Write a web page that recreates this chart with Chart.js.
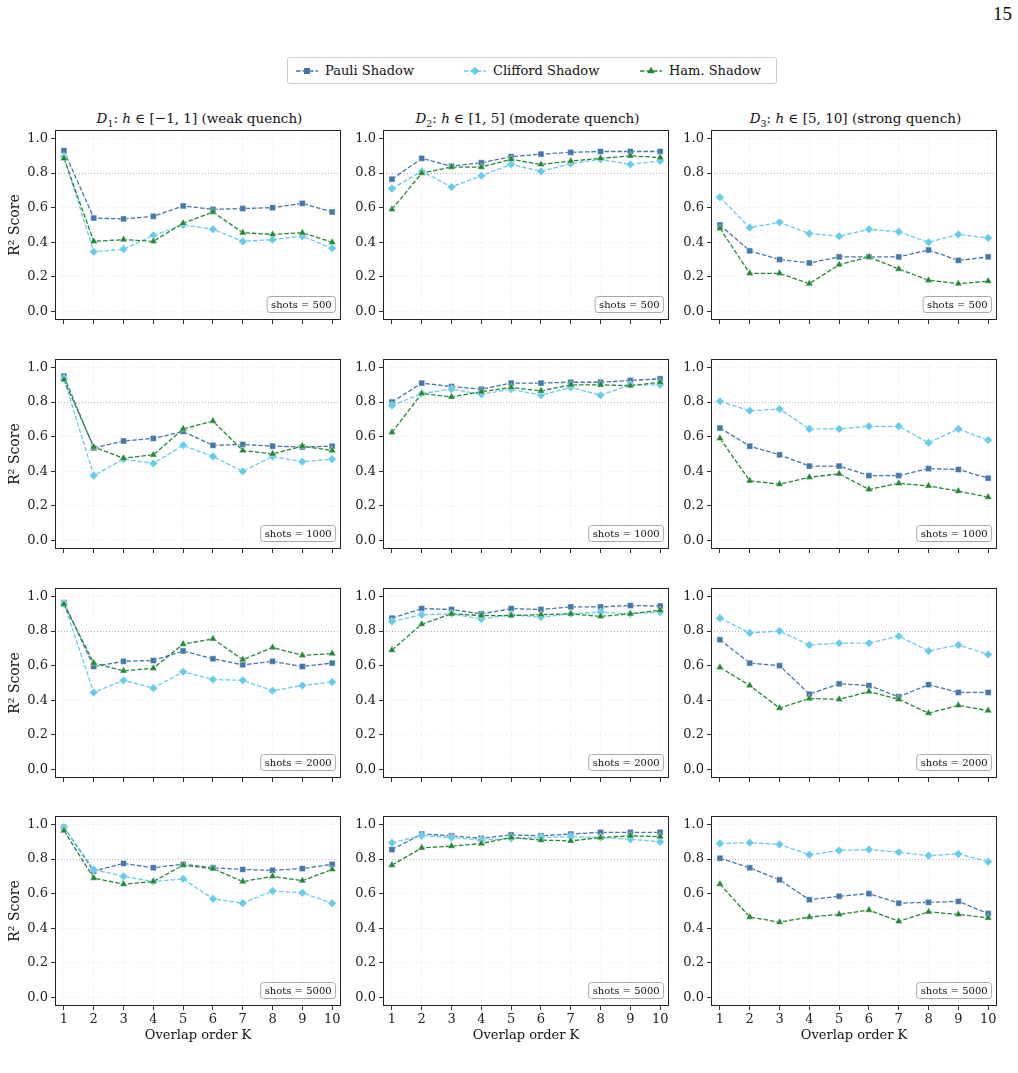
<!DOCTYPE html>
<html>
<head>
<meta charset="utf-8">
<script src="https://cdn.jsdelivr.net/npm/chart.js@4.4.1/dist/chart.umd.min.js"></script>
<style>
html,body{margin:0;padding:0;background:#fff;}
#page{position:relative;width:1018px;height:1073px;overflow:hidden;font-family:"DejaVu Serif",serif;color:#111;}
#page canvas{position:absolute;}
.coltitle{position:absolute;top:110px;width:289px;text-align:center;font-size:13.5px;line-height:17px;white-space:nowrap;}
.coltitle sub{font-size:9.5px;line-height:0;}
#pagenum{position:absolute;right:6px;top:3px;font-size:19px;font-family:"Liberation Serif","DejaVu Serif",serif;}
#legend{position:absolute;left:287px;top:57px;width:488px;height:25px;border:1px solid #cfcfcf;border-radius:3px;background:#fff;}
.litem{position:absolute;top:0;height:25px;display:flex;align-items:center;font-size:13px;white-space:nowrap;}
.litem svg{margin-right:7px;}
</style>
</head>
<body>
<div id="page">
  <div id="pagenum">15</div>
  <div id="legend"></div>
</div>
<script>
// ---------- data ----------
const K = [1, 2, 3, 4, 5, 6, 7, 8, 9, 10];
const shotCounts = [500, 1000, 2000, 5000];
const yTickValues = [0, 0.2, 0.4, 0.6, 0.8, 1.0];
const refLineValue = 0.8;
const methodNames = ['Pauli Shadow', 'Clifford Shadow', 'Ham. Shadow'];
const regimeTitles = [
  '<i>D</i><sub>1</sub>: <i>h</i> \u2208 [\u22121, 1] (weak quench)',
  '<i>D</i><sub>2</sub>: <i>h</i> \u2208 [1, 5] (moderate quench)',
  '<i>D</i><sub>3</sub>: <i>h</i> \u2208 [5, 10] (strong quench)'
];
const yAxisTitle = 'R\u00B2 Score';
const xAxisTitle = 'Overlap order K';

// shots = 500
const D1_500_pauli = [0.93, 0.54, 0.535, 0.55, 0.61, 0.59, 0.595, 0.60, 0.625, 0.575];
const D1_500_cliff = [0.895, 0.345, 0.36, 0.44, 0.50, 0.475, 0.405, 0.415, 0.435, 0.365];
const D1_500_ham   = [0.885, 0.405, 0.415, 0.405, 0.51, 0.575, 0.455, 0.445, 0.455, 0.40];
const D2_500_pauli = [0.765, 0.885, 0.84, 0.86, 0.895, 0.91, 0.92, 0.925, 0.925, 0.925];
const D2_500_cliff = [0.71, 0.81, 0.72, 0.785, 0.85, 0.81, 0.855, 0.88, 0.85, 0.87];
const D2_500_ham   = [0.59, 0.80, 0.835, 0.835, 0.88, 0.85, 0.87, 0.885, 0.90, 0.89];
const D3_500_pauli = [0.50, 0.35, 0.30, 0.28, 0.315, 0.315, 0.315, 0.355, 0.295, 0.315];
const D3_500_cliff = [0.66, 0.485, 0.515, 0.45, 0.435, 0.475, 0.46, 0.40, 0.445, 0.425];
const D3_500_ham   = [0.48, 0.22, 0.22, 0.16, 0.27, 0.315, 0.245, 0.18, 0.16, 0.175];
// shots = 1000
const D1_1000_pauli = [0.95, 0.535, 0.575, 0.59, 0.63, 0.55, 0.555, 0.545, 0.54, 0.545];
const D1_1000_cliff = [0.935, 0.375, 0.47, 0.445, 0.55, 0.485, 0.40, 0.485, 0.455, 0.47];
const D1_1000_ham   = [0.93, 0.54, 0.475, 0.495, 0.645, 0.69, 0.52, 0.50, 0.545, 0.52];
const D2_1000_pauli = [0.80, 0.91, 0.89, 0.875, 0.91, 0.91, 0.915, 0.915, 0.925, 0.935];
const D2_1000_cliff = [0.78, 0.85, 0.875, 0.845, 0.875, 0.84, 0.885, 0.84, 0.90, 0.90];
const D2_1000_ham   = [0.625, 0.85, 0.83, 0.86, 0.885, 0.865, 0.90, 0.90, 0.895, 0.915];
const D3_1000_pauli = [0.65, 0.545, 0.495, 0.43, 0.43, 0.375, 0.375, 0.415, 0.41, 0.36];
const D3_1000_cliff = [0.805, 0.75, 0.76, 0.645, 0.645, 0.66, 0.66, 0.565, 0.645, 0.58];
const D3_1000_ham   = [0.59, 0.345, 0.325, 0.365, 0.385, 0.295, 0.33, 0.315, 0.285, 0.25];
// shots = 2000
const D1_2000_pauli = [0.965, 0.595, 0.625, 0.63, 0.685, 0.64, 0.605, 0.625, 0.595, 0.615];
const D1_2000_cliff = [0.96, 0.445, 0.515, 0.47, 0.565, 0.52, 0.515, 0.455, 0.485, 0.505];
const D1_2000_ham   = [0.955, 0.615, 0.57, 0.585, 0.725, 0.755, 0.635, 0.705, 0.66, 0.67];
const D2_2000_pauli = [0.875, 0.93, 0.925, 0.90, 0.93, 0.925, 0.94, 0.94, 0.948, 0.945];
const D2_2000_cliff = [0.855, 0.895, 0.90, 0.87, 0.895, 0.88, 0.90, 0.91, 0.90, 0.91];
const D2_2000_ham   = [0.69, 0.84, 0.90, 0.89, 0.89, 0.895, 0.90, 0.885, 0.90, 0.92];
const D3_2000_pauli = [0.75, 0.615, 0.60, 0.435, 0.495, 0.485, 0.42, 0.49, 0.445, 0.445];
const D3_2000_cliff = [0.875, 0.79, 0.80, 0.72, 0.73, 0.73, 0.77, 0.685, 0.72, 0.665];
const D3_2000_ham   = [0.59, 0.485, 0.355, 0.41, 0.405, 0.45, 0.405, 0.325, 0.37, 0.34];
// shots = 5000
const D1_5000_pauli = [0.985, 0.73, 0.775, 0.75, 0.77, 0.75, 0.74, 0.735, 0.745, 0.77];
const D1_5000_cliff = [0.985, 0.74, 0.70, 0.67, 0.685, 0.57, 0.545, 0.615, 0.605, 0.545];
const D1_5000_ham   = [0.965, 0.69, 0.655, 0.67, 0.765, 0.745, 0.67, 0.70, 0.675, 0.74];
const D2_5000_pauli = [0.855, 0.945, 0.935, 0.92, 0.94, 0.935, 0.945, 0.955, 0.955, 0.955];
const D2_5000_cliff = [0.895, 0.935, 0.925, 0.91, 0.92, 0.925, 0.93, 0.925, 0.915, 0.90];
const D2_5000_ham   = [0.765, 0.865, 0.875, 0.89, 0.925, 0.91, 0.905, 0.925, 0.935, 0.93];
const D3_5000_pauli = [0.805, 0.75, 0.68, 0.565, 0.585, 0.60, 0.545, 0.55, 0.555, 0.485];
const D3_5000_cliff = [0.89, 0.895, 0.885, 0.825, 0.85, 0.855, 0.84, 0.82, 0.83, 0.785];
const D3_5000_ham   = [0.655, 0.465, 0.435, 0.465, 0.48, 0.505, 0.44, 0.495, 0.48, 0.46];

const panelData = [
  [[D1_500_pauli, D1_500_cliff, D1_500_ham], [D2_500_pauli, D2_500_cliff, D2_500_ham], [D3_500_pauli, D3_500_cliff, D3_500_ham]],
  [[D1_1000_pauli, D1_1000_cliff, D1_1000_ham], [D2_1000_pauli, D2_1000_cliff, D2_1000_ham], [D3_1000_pauli, D3_1000_cliff, D3_1000_ham]],
  [[D1_2000_pauli, D1_2000_cliff, D1_2000_ham], [D2_2000_pauli, D2_2000_cliff, D2_2000_ham], [D3_2000_pauli, D3_2000_cliff, D3_2000_ham]],
  [[D1_5000_pauli, D1_5000_cliff, D1_5000_ham], [D2_5000_pauli, D2_5000_cliff, D2_5000_ham], [D3_5000_pauli, D3_5000_cliff, D3_5000_ham]]
];

// ---------- styles / layout ----------
const methodColors = ['#4477AA', '#66CCEE', '#228833'];
const methodPoints = ['rect', 'rectRot', 'triangle'];
const methodRadius = [4.2, 4.3, 4.3];
const methodOrder = [2, 1, 0];
const COL_LEFT = [55, 383, 711];
const ROW_TOP = [129, 358, 587, 815];
const PLOT_W = 288, PLOT_H = 191;
const FONT = '"DejaVu Serif", serif';

const page = document.getElementById('page');

// legend (HTML)
const legend = document.getElementById('legend');
const legendX = [8, 176, 352];
function markerSvg(i) {
  const c = methodColors[i];
  let m;
  if (i === 0) m = `<rect x="8" y="3" width="6" height="6" fill="${c}"/>`;
  else if (i === 1) m = `<polygon points="11,1.7 15.3,6 11,10.3 6.7,6" fill="${c}"/>`;
  else m = `<polygon points="11,1.8 14.8,8.2 7.2,8.2" fill="${c}"/>`;
  return `<svg width="22" height="12" viewBox="0 0 22 12"><line x1="0" y1="6" x2="22" y2="6" stroke="${c}" stroke-width="1.3" stroke-dasharray="4.5 2"/>${m}</svg>`;
}
methodNames.forEach((n, i) => {
  const d = document.createElement('div');
  d.className = 'litem';
  d.style.left = legendX[i] + 'px';
  d.innerHTML = markerSvg(i) + '<span>' + n + '</span>';
  legend.appendChild(d);
});

// column titles
regimeTitles.forEach((t, c) => {
  const d = document.createElement('div');
  d.className = 'coltitle';
  d.style.left = COL_LEFT[c] + 'px';
  d.innerHTML = t;
  page.appendChild(d);
});

const framePlugin = {
  id: 'frame',
  afterDraw(chart) {
    const a = chart.chartArea, ctx = chart.ctx;
    ctx.save();
    ctx.strokeStyle = '#222';
    ctx.lineWidth = 1;
    ctx.strokeRect(Math.round(a.left) + 0.5, Math.round(a.top) + 0.5, Math.round(a.right - a.left) - 1, Math.round(a.bottom - a.top) - 1);
    ctx.restore();
  }
};

const shotsPlugin = {
  id: 'shotsBox',
  afterDatasetsDraw(chart, args, opts) {
    const a = chart.chartArea, ctx = chart.ctx;
    ctx.save();
    ctx.font = '10px ' + FONT;
    const tw = ctx.measureText(opts.label).width;
    const w = tw + 8, h = 16;
    const x = a.right - 6 - w, y = a.bottom - 8 - h;
    ctx.beginPath();
    ctx.roundRect(x + 0.5, y + 0.5, w, h, 3);
    ctx.fillStyle = 'rgba(255,255,255,0.9)';
    ctx.fill();
    ctx.strokeStyle = '#a8a8a8';
    ctx.lineWidth = 1;
    ctx.stroke();
    ctx.fillStyle = '#111';
    ctx.textBaseline = 'middle';
    ctx.fillText(opts.label, x + 4.5, y + h / 2 + 1);
    ctx.restore();
  }
};

function makePanel(r, c) {
  const yW = c === 0 ? 55 : 40;
  const xH = r === 3 ? 40 : 8;
  const padTop = 4, padRight = 3;
  const W = yW + PLOT_W + padRight, H = padTop + PLOT_H + xH;
  const cv = document.createElement('canvas');
  cv.width = W; cv.height = H;
  cv.style.width = W + 'px'; cv.style.height = H + 'px';
  cv.style.left = (COL_LEFT[c] - yW) + 'px';
  cv.style.top = (ROW_TOP[r] - padTop) + 'px';
  page.appendChild(cv);

  const series = panelData[r][c];
  const datasets = series.map((vals, i) => ({
    label: methodNames[i],
    data: K.map((k, j) => ({ x: k, y: vals[j] })),
    borderColor: methodColors[i],
    backgroundColor: methodColors[i],
    borderWidth: 1.3,
    borderDash: [4.5, 2],
    pointStyle: methodPoints[i],
    pointRadius: methodRadius[i],
    pointBackgroundColor: methodColors[i],
    pointBorderColor: 'rgba(255,255,255,0.7)',
    pointBorderWidth: 0.6,
    tension: 0,
    fill: false,
    order: methodOrder[i]
  }));

  new Chart(cv, {
    type: 'line',
    data: { datasets },
    options: {
      responsive: false,
      animation: false,
      devicePixelRatio: 1,
      layout: { padding: { top: padTop, right: padRight, left: 0, bottom: 0 } },
      plugins: {
        legend: { display: false },
        tooltip: { enabled: false },
        shotsBox: { label: 'shots = ' + shotCounts[r] }
      },
      scales: {
        x: {
          type: 'linear',
          min: 0.7, max: 10.3,
          afterBuildTicks: s => { s.ticks = K.map(v => ({ value: v })); },
          afterFit: s => { s.height = xH; s.paddingLeft = 0; s.paddingRight = 0; },
          ticks: {
            display: r === 3,
            autoSkip: false, maxRotation: 0,
            padding: 2,
            color: '#222',
            font: { family: FONT, size: 13 },
            callback: v => String(v)
          },
          grid: {
            color: '#e4e4e4', lineWidth: 0.8,
            tickColor: '#333', tickLength: 4, tickWidth: 1, tickBorderDash: []
          },
          border: { display: false, dash: [1, 2] },
          title: {
            display: r === 3, text: xAxisTitle, color: '#111',
            font: { family: FONT, size: 13 }, padding: { top: 0, bottom: 3 }
          }
        },
        y: {
          type: 'linear',
          min: -0.05, max: 1.05,
          afterBuildTicks: s => { s.ticks = yTickValues.map(v => ({ value: v })); },
          afterFit: s => { s.width = yW; s.paddingTop = 0; s.paddingBottom = 0; },
          ticks: {
            padding: 3,
            color: '#222',
            font: { family: FONT, size: 13 },
            callback: v => Number(v).toFixed(1)
          },
          grid: {
            color: ctx => (ctx.tick && Math.abs(ctx.tick.value - refLineValue) < 1e-9) ? '#a0a0a0' : '#e4e4e4',
            lineWidth: 0.8,
            tickColor: '#333', tickLength: 4, tickWidth: 1, tickBorderDash: []
          },
          border: { display: false, dash: [1, 2] },
          title: {
            display: c === 0, text: yAxisTitle, color: '#111',
            font: { family: FONT, size: 14 }, padding: { top: 7, bottom: 0 }
          }
        }
      }
    },
    plugins: [framePlugin, shotsPlugin]
  });
}

for (let r = 0; r < 4; r++) for (let c = 0; c < 3; c++) makePanel(r, c);
</script>
</body>
</html>
